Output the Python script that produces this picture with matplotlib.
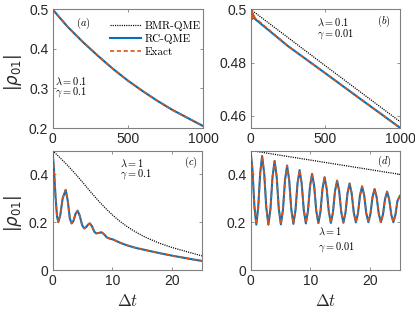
import numpy as np
import matplotlib
matplotlib.use("Agg")
import matplotlib.pyplot as plt
from matplotlib.ticker import FuncFormatter

# ---- data ----
# (a) lambda = 0.1, gamma = 0.1 : all three curves coincide
t_a = [0, 100, 200, 300, 400, 500, 600, 700, 800, 900, 1000]
y_a = [0.5, 0.456, 0.418, 0.383, 0.350, 0.320, 0.293, 0.268, 0.245, 0.225, 0.205]

# (b) lambda = 0.1, gamma = 0.01
t_b_bmr = [0, 250, 500, 750, 1000]
y_b_bmr = [0.5, 0.4894, 0.4788, 0.4683, 0.4578]
t_b_rc = [0, 3, 8, 15, 25, 250, 500, 750, 1000]
y_b_rc = [0.5, 0.4968, 0.4972, 0.4968, 0.4966, 0.4862, 0.4760, 0.4657, 0.4555]
t_b_ex = [0, 3, 6, 9, 12, 15, 18, 21, 25, 30, 250, 500, 750, 1000]
y_b_ex = [0.5, 0.4958, 0.4996, 0.4962, 0.4990, 0.4966, 0.4984, 0.4968, 0.4975, 0.4968,
          0.4862, 0.4760, 0.4657, 0.4555]

# (c) lambda = 1, gamma = 0.1
t_c_bmr = [0, 1, 2, 3, 4, 5, 6, 7, 8, 9, 10, 11, 12, 13, 14, 15, 16, 18, 20, 22, 24, 25]
y_c_bmr = [0.5, 0.476, 0.451, 0.425, 0.397, 0.368, 0.338, 0.309, 0.281, 0.255, 0.231,
           0.209, 0.190, 0.173, 0.158, 0.144, 0.132, 0.111, 0.094, 0.080, 0.066, 0.059]
t_c = [0, 0.25, 0.5, 0.75, 0.97, 1.3, 1.7, 2.2, 2.55, 2.9, 3.2, 3.5, 3.85, 4.2, 4.55,
       4.95, 5.3, 5.65, 5.95, 6.25, 6.6, 7.0, 7.3, 7.7, 8.2, 8.6, 9.1, 9.6, 10.1, 10.6,
       11.5, 12.5, 14, 16, 18, 20, 22, 24, 25]
y_c = [0.5, 0.42, 0.31, 0.225, 0.2, 0.23, 0.30, 0.335, 0.29, 0.215, 0.195, 0.205, 0.235,
       0.248, 0.228, 0.188, 0.174, 0.18, 0.19, 0.195, 0.183, 0.16, 0.153, 0.155, 0.158,
       0.15, 0.136, 0.131, 0.128, 0.122, 0.112, 0.103, 0.092, 0.081, 0.070, 0.060, 0.051,
       0.042, 0.038]

# (d) lambda = 1, gamma = 0.01
t_d_bmr = [0, 5, 10, 15, 20, 25]
y_d_bmr = [0.5, 0.48, 0.46, 0.44, 0.42, 0.40]
t_d = [0, 0.32, 0.65, 0.97, 1.29, 1.62, 1.94, 2.29, 2.64, 2.99, 3.34, 3.68, 4.03, 4.38,
       4.73, 5.08, 5.43, 5.77, 6.12, 6.47, 6.82, 7.17, 7.52, 7.86, 8.21, 8.56, 8.91, 9.26,
       9.61, 9.95, 10.30, 10.65, 11.00, 11.35, 11.70, 12.04, 12.39, 12.74, 13.09, 13.44,
       13.79, 14.13, 14.48, 14.83, 15.18, 15.53, 15.88, 16.22, 16.57, 16.92, 17.27, 17.62,
       17.97, 18.31, 18.66, 19.01, 19.36, 19.71, 20.06, 20.40, 20.75, 21.10, 21.45, 21.80,
       22.15, 22.49, 22.84, 23.19, 23.54, 23.89, 24.24, 24.58, 25.0]
y_d = [0.5, 0.4225, 0.2675, 0.19, 0.262, 0.405, 0.477, 0.405, 0.262, 0.19, 0.2565, 0.3895,
       0.456, 0.390, 0.257, 0.191, 0.2525, 0.3755, 0.437, 0.376, 0.254, 0.193, 0.249, 0.362,
       0.418, 0.362, 0.251, 0.195, 0.247, 0.350, 0.402, 0.3505, 0.2475, 0.196, 0.244, 0.340,
       0.388, 0.340, 0.245, 0.197, 0.241, 0.330, 0.374, 0.330, 0.242, 0.198, 0.239, 0.321,
       0.362, 0.321, 0.240, 0.199, 0.237, 0.312, 0.350, 0.3125, 0.2375, 0.200, 0.235, 0.304,
       0.339, 0.304, 0.235, 0.200, 0.232, 0.296, 0.328, 0.296, 0.232, 0.200, 0.232, 0.290,
       0.31]

blue = '#0072BD'
orange = '#D95319'
plt.rcParams['mathtext.fontset'] = 'cm'
tickfont = 'Liberation Sans'

fig = plt.figure(figsize=(4.15, 3.12), dpi=100)
W, H = 415.0, 312.0
def box(l, r, t, b):
    return [l / W, 1 - b / H, (r - l) / W, (b - t) / H]

ax_a = fig.add_axes(box(52.5, 203, 9.3, 128))
ax_b = fig.add_axes(box(250.5, 400, 9.3, 128))
ax_c = fig.add_axes(box(52.5, 202, 150.5, 270))
ax_d = fig.add_axes(box(250.5, 400, 150.5, 270))

def draw(ax, tb, yb, tr, yr, te, ye):
    # BMR drawn first so it sits beneath the other two where they coincide
    ax.plot(tb, yb, color='black', lw=0.9, dashes=(0.9, 0.9), zorder=2)
    ax.plot(tr, yr, color=blue, lw=1.5, zorder=3)
    ax.plot(te, ye, color=orange, lw=1.2, dashes=(2.5, 1.6), zorder=4)

draw(ax_a, t_a, y_a, t_a, y_a, t_a, y_a)
draw(ax_b, t_b_bmr, y_b_bmr, t_b_rc, y_b_rc, t_b_ex, y_b_ex)
draw(ax_c, t_c_bmr, y_c_bmr, t_c, y_c, t_c, y_c)
draw(ax_d, t_d_bmr, y_d_bmr, t_d, y_d, t_d, y_d)

fmt = FuncFormatter(lambda v, p: '%g' % v)
ax_a.set_xlim(0, 1000); ax_a.set_ylim(0.2, 0.5)
ax_a.set_xticks([0, 500, 1000]); ax_a.set_yticks([0.2, 0.3, 0.4, 0.5])
ax_b.set_xlim(0, 1000); ax_b.set_ylim(0.4554, 0.5)
ax_b.set_xticks([0, 500, 1000]); ax_b.set_yticks([0.46, 0.48, 0.5])
for ax in (ax_c, ax_d):
    ax.set_xlim(0, 25); ax.set_ylim(0, 0.5)
    ax.set_xticks([0, 10, 20]); ax.set_yticks([0, 0.2, 0.4])

for ax in (ax_a, ax_b, ax_c, ax_d):
    for s in ax.spines.values():
        s.set_color('#808080')
        s.set_linewidth(0.8)
    ax.tick_params(direction='in', length=2, width=0.6, color='#808080',
                   top=True, right=True, labelsize=10, labelcolor='#262626', pad=3)
    ax.xaxis.set_major_formatter(fmt)
    ax.yaxis.set_major_formatter(fmt)
    for lab in ax.get_xticklabels() + ax.get_yticklabels():
        lab.set_family(tickfont)

for ax in (ax_a, ax_c):
    ax.set_ylabel(r'$|\rho_{01}|$', fontsize=12, math_fontfamily='dejavusans', color='#262626')
    ax.yaxis.set_label_coords(-0.19, 0.47)
for ax in (ax_c, ax_d):
    ax.set_xlabel(r'$\Delta t$', fontsize=12, color='#262626')
    ax.xaxis.set_label_coords(0.5, -0.185)

ts = 7.5
ax_a.text(0.207, 0.885, r'$(a)$', transform=ax_a.transAxes, fontsize=ts, ha='center', va='center')
ax_a.text(0.015, 0.396, r'$\lambda = 0.1$', transform=ax_a.transAxes, fontsize=ts, va='center')
ax_a.text(0.015, 0.300, r'$\gamma = 0.1$', transform=ax_a.transAxes, fontsize=ts, va='center')
ax_b.text(0.893, 0.90, r'$(b)$', transform=ax_b.transAxes, fontsize=ts, ha='center', va='center')
ax_b.text(0.443, 0.890, r'$\lambda = 0.1$', transform=ax_b.transAxes, fontsize=ts, va='center')
ax_b.text(0.443, 0.795, r'$\gamma = 0.01$', transform=ax_b.transAxes, fontsize=ts, va='center')
ax_c.text(0.924, 0.898, r'$(c)$', transform=ax_c.transAxes, fontsize=ts, ha='center', va='center')
ax_c.text(0.452, 0.896, r'$\lambda = 1$', transform=ax_c.transAxes, fontsize=ts, va='center')
ax_c.text(0.452, 0.800, r'$\gamma = 0.1$', transform=ax_c.transAxes, fontsize=ts, va='center')
ax_d.text(0.895, 0.906, r'$(d)$', transform=ax_d.transAxes, fontsize=ts, ha='center', va='center')
ax_d.text(0.449, 0.322, r'$\lambda = 1$', transform=ax_d.transAxes, fontsize=ts, va='center')
ax_d.text(0.449, 0.193, r'$\gamma = 0.01$', transform=ax_d.transAxes, fontsize=ts, va='center')

# legend in panel (a)
h_b, = ax_a.plot([], [], color='black', lw=0.9, dashes=(0.9, 0.9))
h_r, = ax_a.plot([], [], color=blue, lw=1.5)
h_e, = ax_a.plot([], [], color=orange, lw=1.2, dashes=(2.5, 1.6))
ax_a.legend([h_b, h_r, h_e], ['BMR-QME', 'RC-QME', 'Exact'], loc='upper left',
            bbox_to_anchor=(0.33, 0.97), frameon=False, handlelength=2.8,
            handletextpad=0.3, labelspacing=0.3, borderpad=0.2,
            prop={'family': 'cmr10', 'size': 8})

fig.savefig('out.png', dpi=100)
